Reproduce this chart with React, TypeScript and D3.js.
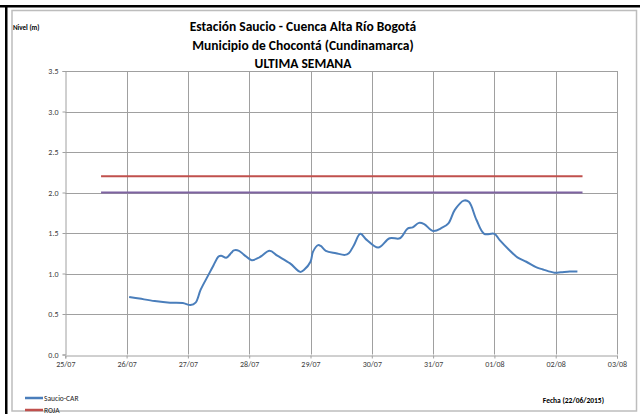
import React, { useRef, useEffect } from 'react';
import * as d3 from 'd3';

// Nivel (m) readings, Saucio-CAR station
const times: string[] = [
  '2015-07-26T01:00', '2015-07-26T05:00', '2015-07-26T11:00', '2015-07-26T17:00', '2015-07-26T22:00',
  '2015-07-27T01:00', '2015-07-27T03:00', '2015-07-27T05:00', '2015-07-27T08:00', '2015-07-27T10:00',
  '2015-07-27T12:00', '2015-07-27T13:00', '2015-07-27T15:00', '2015-07-27T17:00', '2015-07-27T18:00',
  '2015-07-27T20:00', '2015-07-27T22:00', '2015-07-28T01:00', '2015-07-28T04:00', '2015-07-28T08:00',
  '2015-07-28T11:00', '2015-07-28T16:00', '2015-07-28T20:00', '2015-07-28T21:30', '2015-07-29T00:00',
  '2015-07-29T01:00', '2015-07-29T03:00', '2015-07-29T04:00', '2015-07-29T06:00', '2015-07-29T10:00',
  '2015-07-29T13:30', '2015-07-29T15:00', '2015-07-29T17:00', '2015-07-29T19:30', '2015-07-29T22:00',
  '2015-07-30T02:30', '2015-07-30T07:00', '2015-07-30T11:00', '2015-07-30T14:00', '2015-07-30T16:00',
  '2015-07-30T18:30', '2015-07-30T20:30', '2015-07-31T00:00', '2015-07-31T03:30', '2015-07-31T06:00',
  '2015-07-31T08:30', '2015-07-31T12:00', '2015-07-31T14:00', '2015-07-31T17:00', '2015-07-31T20:00',
  '2015-08-01T00:00', '2015-08-01T02:00', '2015-08-01T05:30', '2015-08-01T09:00', '2015-08-01T12:30',
  '2015-08-01T16:30', '2015-08-01T19:00', '2015-08-01T23:30', '2015-08-02T02:00', '2015-08-02T05:30',
  '2015-08-02T08:30',
];
const saucio: number[] = [
  0.71, 0.69, 0.66, 0.64, 0.635,
  0.61, 0.64, 0.8, 0.98, 1.1,
  1.21, 1.22, 1.195, 1.255, 1.285,
  1.28, 1.23, 1.165, 1.2, 1.28,
  1.22, 1.125, 1.02, 1.045, 1.145,
  1.27, 1.35, 1.34, 1.28, 1.25,
  1.23, 1.25, 1.35, 1.49, 1.415,
  1.32, 1.435, 1.435, 1.555, 1.57,
  1.625, 1.61, 1.525, 1.565, 1.62,
  1.785, 1.9, 1.885, 1.66, 1.49,
  1.49, 1.415, 1.3, 1.2, 1.145,
  1.075, 1.05, 1.01, 1.015, 1.025,
  1.025,
];

// threshold lines
const thresholdTimes: string[] = ['2015-07-25T14:00', '2015-08-02T10:30'];
const roja: number[] = [2.2, 2.2];
const naranja: number[] = [2.0, 2.0];

const xTickDates: string[] = [
  '2015-07-25', '2015-07-26', '2015-07-27', '2015-07-28', '2015-07-29',
  '2015-07-30', '2015-07-31', '2015-08-01', '2015-08-02', '2015-08-03',
];
const yTicks: number[] = [0, 0.5, 1, 1.5, 2, 2.5, 3, 3.5];

const titleLines: string[] = [
  'Estación Saucio - Cuenca Alta Río Bogotá',
  'Municipio de Chocontá (Cundinamarca)',
  'ULTIMA SEMANA',
];

const W = 640;
const H = 414;
const font = "Carlito, 'Liberation Sans Narrow', 'Liberation Sans', Arial, sans-serif";

const App: React.FC = () => {
  const svgRef = useRef<SVGSVGElement | null>(null);

  useEffect(() => {
    if (!svgRef.current) return;
    const svg = d3.select(svgRef.current);
    svg.selectAll('*').remove();

    const parse = (s: string) => new Date(s);
    const margin = { left: 65.3, right: 617, top: 71, bottom: 354.5 };

    const x = d3
      .scaleTime()
      .domain([parse(xTickDates[0]), parse(xTickDates[xTickDates.length - 1])])
      .range([margin.left, margin.right]);
    const y = d3.scaleLinear().domain([0, 3.5]).range([margin.bottom, margin.top]);

    // frame
    svg.append('rect').attr('width', W).attr('height', H).attr('fill', '#fff');
    svg
      .append('rect')
      .attr('x', 12)
      .attr('y', 10.5)
      .attr('width', 624.5)
      .attr('height', 400.5)
      .attr('fill', 'none')
      .attr('stroke', '#bdbdbd')
      .attr('stroke-width', 1.5);
    svg.append('rect').attr('x', 0).attr('y', 5).attr('width', W).attr('height', 2.5).attr('fill', '#000');
    svg.append('rect').attr('x', 5).attr('y', 5).attr('width', 2.5).attr('height', H).attr('fill', '#000');

    // grid
    const grid = svg.append('g').attr('stroke', '#a0a0a0').attr('stroke-width', 1);
    grid
      .selectAll('line.h')
      .data(yTicks.filter((d) => d > 0))
      .join('line')
      .attr('class', 'h')
      .attr('x1', margin.left)
      .attr('x2', margin.right)
      .attr('y1', (d) => Math.round(y(d)) + 0.5)
      .attr('y2', (d) => Math.round(y(d)) + 0.5);
    grid
      .selectAll('line.v')
      .data(xTickDates.slice(1))
      .join('line')
      .attr('class', 'v')
      .attr('x1', (d) => Math.round(x(parse(d))) + 0.5)
      .attr('x2', (d) => Math.round(x(parse(d))) + 0.5)
      .attr('y1', margin.top)
      .attr('y2', margin.bottom);

    // axes
    const yAxis = d3
      .axisLeft(y)
      .tickValues(yTicks)
      .tickSize(3)
      .tickFormat((d) => d3.format('.1f')(Number(d)));
    const gy = svg.append('g').attr('transform', `translate(${Math.round(margin.left) + 0.5},0)`).call(yAxis);

    const xAxis = d3
      .axisBottom(x)
      .tickValues(xTickDates.map(parse))
      .tickSize(3)
      .tickFormat((d) => d3.timeFormat('%d/%m')(d as Date));
    const gx = svg
      .append('g')
      .attr('transform', `translate(0,${Math.round(margin.bottom) + 0.5})`)
      .call(xAxis);

    [gx, gy].forEach((g) => {
      g.select('.domain').attr('stroke', '#a0a0a0');
      g.selectAll('.tick line').attr('stroke', '#a0a0a0');
      g.selectAll('.tick text')
        .attr('fill', '#404040')
        .style('font-family', font)
        .style('font-size', '8px');
    });
    gy.selectAll('.tick text').attr('x', -7);
    gx.selectAll('.tick text').attr('y', 6);

    // threshold lines
    const tLine = d3
      .line<number>()
      .x((_, i) => x(parse(thresholdTimes[i])))
      .y((d) => y(d));
    svg
      .append('path')
      .datum(roja)
      .attr('d', tLine)
      .attr('fill', 'none')
      .attr('stroke', '#c0504d')
      .attr('stroke-width', 2);
    svg
      .append('path')
      .datum(naranja)
      .attr('d', tLine)
      .attr('fill', 'none')
      .attr('stroke', '#7e63a1')
      .attr('stroke-width', 2);

    // level series
    const line = d3
      .line<number>()
      .x((_, i) => x(parse(times[i])))
      .y((d) => y(d))
      .curve(d3.curveCatmullRom.alpha(0.5));
    svg
      .append('path')
      .datum(saucio)
      .attr('d', line)
      .attr('fill', 'none')
      .attr('stroke', '#4a7ebb')
      .attr('stroke-width', 2)
      .attr('stroke-linejoin', 'round');

    // titles
    svg
      .selectAll('text.title')
      .data(titleLines)
      .join('text')
      .attr('class', 'title')
      .attr('x', 303)
      .attr('y', (_, i) => 31 + i * 18.5)
      .attr('text-anchor', 'middle')
      .style('font-family', font)
      .style('font-size', '13.5px')
      .style('font-weight', 'bold')
      .attr('fill', '#000')
      .text((d) => d);

    svg
      .append('text')
      .attr('x', 13)
      .attr('y', 30)
      .style('font-family', font)
      .style('font-size', '7px')
      .style('font-weight', 'bold')
      .text('Nivel (m)');

    svg
      .append('text')
      .attr('x', 604)
      .attr('y', 403)
      .attr('text-anchor', 'end')
      .style('font-family', font)
      .style('font-size', '7.5px')
      .style('font-weight', 'bold')
      .text('Fecha (22/06/2015)');

    // legend (second entry sits at the lower edge, as in the source)
    const legend = [
      { name: 'Saucio-CAR', color: '#4a7ebb' },
      { name: 'ROJA', color: '#c0504d' },
    ];
    const lg = svg
      .append('g')
      .selectAll('g')
      .data(legend)
      .join('g')
      .attr('transform', (_, i) => `translate(25,${398 + i * 12})`);
    lg.append('line')
      .attr('x1', 0)
      .attr('x2', 18)
      .attr('stroke', (d) => d.color)
      .attr('stroke-width', 2.5);
    lg.append('text')
      .attr('x', 19)
      .attr('y', 2.5)
      .style('font-family', font)
      .style('font-size', '7.5px')
      .attr('fill', '#222')
      .text((d) => d.name);
  }, []);

  return (
    <svg
      ref={svgRef}
      width={W}
      height={H}
      style={{ position: 'absolute', left: 0, top: 0, display: 'block' }}
    />
  );
};

export default App;
